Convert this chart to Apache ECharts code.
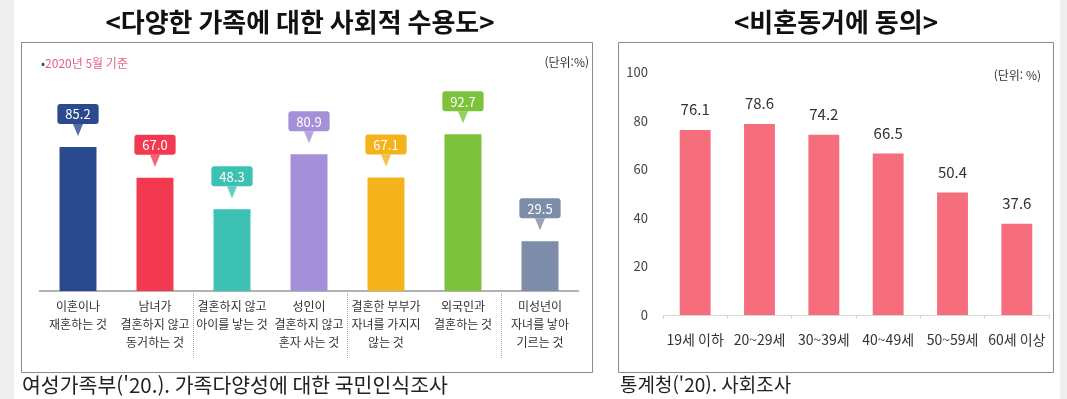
<!DOCTYPE html>
<html lang="ko">
<head>
  <meta charset="UTF-8">
  <title>가족 수용도 / 비혼동거</title>
  <script src="https://cdn.jsdelivr.net/npm/echarts@6/dist/echarts.min.js"></script>
  <style>
    html, body { margin: 0; padding: 0; background: #fff; }
    #chart { width: 1067px; height: 399px; }
  </style>
</head>
<body>
  <div id="chart"></div>
  <script>
    // 왼쪽: 다양한 가족에 대한 사회적 수용도
    var familyTypes = [
      '이혼이나\n재혼하는 것',
      '남녀가\n결혼하지 않고\n동거하는 것',
      '결혼하지 않고\n아이를 낳는 것',
      '성인이\n결혼하지 않고\n혼자 사는 것',
      '결혼한 부부가\n자녀를 가지지\n않는 것',
      '외국인과\n결혼하는 것',
      '미성년이\n자녀를 낳아\n기르는 것'
    ]
    var familyValues = [85.2, 67.0, 48.3, 80.9, 67.1, 92.7, 29.5]

    // 오른쪽: 비혼동거에 동의 (연령별)
    var ageGroups = ['19세 이하', '20~29세', '30~39세', '40~49세', '50~59세', '60세 이상']
    var cohabitValues = [76.1, 78.6, 74.2, 66.5, 50.4, 37.6]
    var yTicks = [0, 20, 40, 60, 80, 100]

    var palette = ['#2b4a8e', '#f2394f', '#3cc1b3', '#a390d8', '#f4b31b', '#7dc23b', '#7d8ca8']
    var font = '"Noto Sans CJK KR", "Noto Sans", sans-serif'

    var mCharts = echarts.init(document.getElementById('chart'))

    var option = {
      backgroundColor: '#fff',
      textStyle: { fontFamily: font },
      animation: false,
      graphic: [
        // 양 옆 회색 띠
        { type: 'rect', shape: { x: 0, y: 0, width: 14, height: 399 }, style: { fill: '#efefef' }, z: -10 },
        { type: 'rect', shape: { x: 1060, y: 0, width: 7, height: 399 }, style: { fill: '#efefef' }, z: -10 },
        // 박스
        { type: 'rect', shape: { x: 21.5, y: 42.5, width: 571, height: 330 }, style: { fill: 'none', stroke: '#8a8a8a', lineWidth: 1 } },
        { type: 'rect', shape: { x: 618.5, y: 42.5, width: 435, height: 330 }, style: { fill: 'none', stroke: '#8a8a8a', lineWidth: 1 } },
        // 제목
        { type: 'text', x: 300, y: 22, style: { text: '<다양한 가족에 대한 사회적 수용도>', font: 'bold 26px ' + font, fill: '#111', align: 'center', verticalAlign: 'middle' } },
        { type: 'text', x: 836, y: 22, style: { text: '<비혼동거에 동의>', font: 'bold 26px ' + font, fill: '#111', align: 'center', verticalAlign: 'middle' } },
        // 주석
        {
          type: 'text', x: 41, y: 63,
          style: {
            text: '{b|•}{t|2020년 5월 기준}',
            verticalAlign: 'middle',
            rich: {
              b: { fill: '#2b4a8e', font: '12px ' + font },
              t: { fill: '#e8607e', font: '12px ' + font }
            }
          }
        },
        { type: 'text', x: 589, y: 62, style: { text: '(단위:%)', font: '12px ' + font, fill: '#333', align: 'right', verticalAlign: 'middle' } },
        { type: 'text', x: 1041, y: 75, style: { text: '(단위: %)', font: '12px ' + font, fill: '#333', align: 'right', verticalAlign: 'middle' } },
        // 출처
        { type: 'text', x: 22, y: 385, style: { text: "여성가족부('20.). 가족다양성에 대한 국민인식조사", font: '20.5px ' + font, fill: '#222', verticalAlign: 'middle' } },
        { type: 'text', x: 620, y: 385, style: { text: "통계청('20). 사회조사", font: '19px ' + font, fill: '#222', verticalAlign: 'middle' } }
      ],
      grid: [
        { left: 39.5, right: 488.5, top: 122, bottom: 108 },
        { left: 39.5, right: 488.5, top: 293, height: 66 },
        { left: 663, right: 18, top: 72, bottom: 84 }
      ],
      xAxis: [
        {
          gridIndex: 0, type: 'category', data: familyTypes,
          axisLine: { lineStyle: { color: '#999', width: 1.5 } },
          axisTick: { show: false },
          axisLabel: { interval: 0, color: '#333', fontSize: 12, lineHeight: 18, margin: 6, verticalAlign: 'top' }
        },
        {
          // 라벨 사이 점선 구분
          gridIndex: 1, type: 'category', data: familyTypes,
          axisLine: { show: false }, axisTick: { show: false }, axisLabel: { show: false },
          splitLine: { show: true, showMinLine: false, showMaxLine: false, lineStyle: { type: 'dotted', color: '#aaa' } }
        },
        {
          gridIndex: 2, type: 'category', data: ageGroups,
          axisLine: { lineStyle: { color: '#d6d6d6' } },
          axisTick: { show: true, lineStyle: { color: '#d6d6d6' }, length: 4 },
          axisLabel: { interval: 0, color: '#333', fontSize: 14, margin: 18 }
        }
      ],
      yAxis: [
        { gridIndex: 0, type: 'value', min: 0, max: 100, show: false },
        { gridIndex: 1, type: 'value', show: false },
        {
          gridIndex: 2, type: 'value', min: yTicks[0], max: yTicks[yTicks.length - 1], interval: 20,
          axisLine: { show: false }, axisTick: { show: false }, splitLine: { show: false },
          axisLabel: { color: '#444', fontSize: 13, margin: 15 }
        }
      ],
      series: [
        {
          type: 'bar', xAxisIndex: 0, yAxisIndex: 0, barWidth: '48%',
          data: familyValues.map(function (v, i) {
            return {
              value: v,
              itemStyle: { color: palette[i] },
              label: { backgroundColor: palette[i] }
            }
          }),
          label: {
            show: true, position: 'top', distance: 23,
            color: '#fff', fontSize: 13, padding: [4, 8, 3, 8], borderRadius: 3,
            formatter: function (p) { return p.value.toFixed(1) }
          }
        },
        {
          // 말풍선 꼬리
          type: 'scatter', xAxisIndex: 0, yAxisIndex: 0,
          symbol: 'triangle', symbolRotate: 180, symbolSize: [10, 12], symbolOffset: [0, -17],
          data: familyValues.map(function (v, i) {
            return { value: v, itemStyle: { color: palette[i] } }
          }),
          z: 3
        },
        {
          type: 'bar', xAxisIndex: 2, yAxisIndex: 2, barWidth: '48%',
          data: cohabitValues,
          itemStyle: { color: '#f66d7b' },
          label: {
            show: true, position: 'top', distance: 13,
            color: '#333', fontSize: 15,
            formatter: function (p) { return p.value.toFixed(1) }
          }
        }
      ]
    }
    mCharts.setOption(option)
  </script>
</body>
</html>
